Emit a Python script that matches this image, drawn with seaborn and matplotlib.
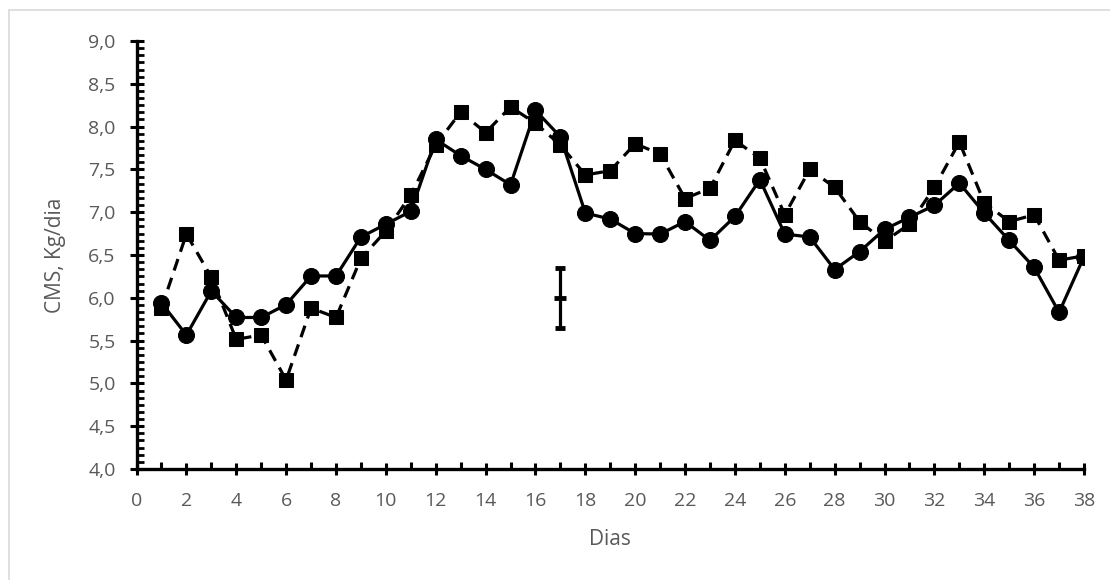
import seaborn as sns
import matplotlib.pyplot as plt
import pandas as pd
from matplotlib.ticker import MultipleLocator, AutoMinorLocator, FuncFormatter

# CMS (Kg/dia) por dia - duas séries
dias = list(range(1, 39))
cms_circulo = [5.94, 5.565, 6.08, 5.77, 5.77, 5.92, 6.255, 6.255, 6.71, 6.86,
               7.01, 7.85, 7.66, 7.50, 7.32, 8.19, 7.88, 6.99, 6.92, 6.75,
               6.745, 6.89, 6.67, 6.95, 7.38, 6.745, 6.71, 6.33, 6.54, 6.80,
               6.94, 7.08, 7.34, 6.99, 6.67, 6.355, 5.83, 6.48]
cms_quadrado = [5.88, 6.745, 6.24, 5.515, 5.565, 5.04, 5.88, 5.77, 6.46, 6.78,
                7.20, 7.785, 8.17, 7.93, 8.23, 8.04, 7.785, 7.435, 7.485, 7.80,
                7.68, 7.16, 7.28, 7.84, 7.63, 6.97, 7.50, 7.29, 6.89, 6.66,
                6.86, 7.29, 7.82, 7.11, 6.89, 6.97, 6.44, 6.49]

# Erro padrão (barra única)
ep_x = [17]
ep_y = [6.0]
ep_err = [0.35]

df = pd.DataFrame({'dia': dias, 'circ': cms_circulo, 'quad': cms_quadrado})

sns.set_style('white')
plt.rcParams['font.family'] = ['Open Sans', 'DejaVu Sans']

fig = plt.figure(figsize=(11.1, 5.8), dpi=100)
ax = fig.add_axes([0.123, 0.1914, 0.8536, 0.7379])

sns.lineplot(x='dia', y='quad', data=df, ax=ax, color='black', linewidth=2.3,
             linestyle=(0, (3.8, 2.4)), marker='s', markersize=10.5,
             markeredgecolor='black', markerfacecolor='black')
sns.lineplot(x='dia', y='circ', data=df, ax=ax, color='black', linewidth=2.3,
             marker='o', markersize=11.5, markeredgecolor='black',
             markerfacecolor='black')

ax.errorbar(ep_x, ep_y, yerr=ep_err, color='black', linewidth=2.3, capsize=3.5,
            capthick=2.3, marker='_', markersize=8, markeredgewidth=3.5)

ax.set_xlim(0, 38)
ax.set_ylim(4.0, 9.0)
ax.xaxis.set_major_locator(MultipleLocator(2))
ax.xaxis.set_minor_locator(MultipleLocator(1))
ax.yaxis.set_major_locator(MultipleLocator(0.5))
ax.yaxis.set_minor_locator(AutoMinorLocator(6))
ax.yaxis.set_major_formatter(FuncFormatter(lambda v, p: f'{v:.1f}'.replace('.', ',')))

for side in ['top', 'right']:
    ax.spines[side].set_visible(False)
for side in ['left', 'bottom']:
    ax.spines[side].set_linewidth(2.4)
    ax.spines[side].set_color('black')

ax.tick_params(axis='both', which='both', bottom=True, left=True, color='black')
ax.tick_params(axis='x', which='major', direction='inout', length=9, width=2.2,
               labelsize=14, labelcolor='#595959', pad=12)
ax.tick_params(axis='x', which='minor', direction='in', length=5, width=2.2)
ax.tick_params(axis='y', which='major', direction='inout', length=10, width=2.2,
               labelsize=14, labelcolor='#595959', pad=10)
ax.tick_params(axis='y', which='minor', direction='in', length=5, width=2)

ax.set_xlabel('Dias', fontsize=15, color='#595959', labelpad=14)
ax.set_ylabel('CMS, Kg/dia', fontsize=15, color='#595959', labelpad=16)
ax.grid(False)

# borda do gráfico
fig.add_artist(plt.Line2D([9 / 1110, 1], [1 - 10 / 580, 1 - 10 / 580],
                          color='#d9d9d9', linewidth=1.2))
fig.add_artist(plt.Line2D([9 / 1110, 9 / 1110], [0, 1 - 10 / 580],
                          color='#d9d9d9', linewidth=1.2))

plt.savefig('out.png', dpi=100)
